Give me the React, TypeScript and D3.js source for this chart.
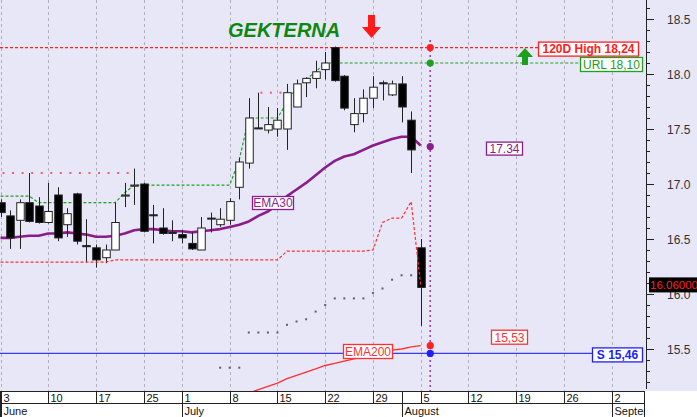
import React from "react";
import * as d3 from "d3";

const W = 697;
const H = 417;
const PLOT_R = 646;
const PLOT_B = 391;

// OHLC, trading days from 3 June (index 0) to 5 August (index 44)
const opens = [16.83,16.71,16.67,16.83,16.80,16.65,16.90,16.63,16.91,16.44,16.42,16.33,16.40,16.89,16.98,17.00,16.72,16.60,16.56,16.54,16.46,16.40,16.69,16.63,16.67,16.97,17.19,17.51,17.49,17.50,17.50,17.70,17.92,17.96,18.04,18.24,17.98,17.54,17.64,17.78,17.92,17.81,17.91,17.58,16.42];
const highs = [16.86,16.76,16.86,17.10,16.88,17.01,16.97,16.78,16.92,16.68,16.45,16.45,16.83,17.01,17.14,17.01,16.81,16.78,16.67,16.58,16.56,16.70,16.74,16.78,16.87,17.24,17.78,17.83,17.70,17.69,17.91,17.95,17.97,18.12,18.20,18.25,17.99,17.78,17.86,17.98,17.94,17.94,17.98,17.66,16.50];
const lows = [16.70,16.41,16.41,16.65,16.64,16.64,16.48,16.52,16.45,16.29,16.24,16.28,16.40,16.79,16.81,16.56,16.46,16.54,16.48,16.46,16.40,16.40,16.56,16.61,16.63,16.86,17.14,17.50,17.46,17.43,17.31,17.70,17.79,17.87,17.95,17.93,17.67,17.47,17.56,17.69,17.76,17.80,17.56,17.10,15.71];
const closes = [16.74,16.51,16.83,16.66,16.65,16.75,16.51,16.73,16.48,16.43,16.31,16.40,16.65,16.90,16.99,16.57,16.72,16.55,16.56,16.51,16.41,16.60,16.69,16.68,16.84,17.20,17.60,17.51,17.54,17.58,17.83,17.91,17.96,18.02,18.10,17.94,17.69,17.64,17.78,17.88,17.92,17.91,17.70,17.31,16.06];

const ema30 = [16.51,16.51,16.52,16.53,16.53,16.55,16.55,16.56,16.55,16.54,16.52,16.52,16.53,16.55,16.58,16.59,16.59,16.58,16.57,16.57,16.56,16.57,16.58,16.59,16.61,16.63,16.66,16.71,16.75,16.81,16.89,16.95,17.01,17.08,17.15,17.21,17.25,17.27,17.31,17.35,17.38,17.41,17.43,17.43,17.35];

const urlStep = [16.89,16.89,16.89,16.89,16.83,16.83,16.83,16.83,16.83,16.83,16.83,16.83,16.83,16.92,16.99,16.99,16.99,16.99,16.99,16.99,16.99,16.99,16.99,16.99,16.99,17.22,17.60,17.60,17.60,17.60,17.74,17.88,17.95,18.02,18.10,18.10,18.10,18.10,18.10,18.10,18.10,18.10,18.10,18.10,18.10,18.10];

const lowerStop = [16.29,16.29,16.29,16.29,16.29,16.29,16.29,16.29,16.29,16.29,16.29,16.29,16.31,16.31,16.31,16.31,16.31,16.31,16.31,16.31,16.31,16.31,16.31,16.31,16.31,16.31,16.31,16.31,16.31,16.31,16.39,16.39,16.39,16.39,16.39,16.39,16.39,16.39,16.39,16.40,16.65,16.69,16.69,16.84,16.08];

const greyDotsStart = 23;
const greyDots = [15.33,15.33,15.33,15.65,15.65,15.65,15.65,15.72,15.75,15.77,15.84,15.90,15.96,15.96,15.96,15.96,16.01,16.05,16.13,16.17,16.17];

const ema200Start = 26;
const ema200 = [15.10,15.13,15.16,15.19,15.23,15.26,15.29,15.32,15.35,15.37,15.39,15.41,15.43,15.45,15.47,15.49,15.50,15.52,15.53];

const redDotsA = { start: 0, values: [17.10,17.10,17.10,17.10,17.10,17.10,17.10,17.10,17.10,17.10,17.10,17.10,17.10,17.10] };
const redDotsB = { start: 27, values: [17.83,17.83,17.83] };

const high120 = 18.24;
const urlLevel = 18.10;
const support = 15.46;
const ema30Last = 17.34;
const ema200Last = 15.53;
const lastPrice = 16.06;
const markerIndex = 45;

const tickLabels = ["3","10","17","25","1","8","15","22","29","5","12","19","26","2"];
const tickIdx = [0,5,10,15,19,24,29,34,39,44,49,54,59,64];
const monthLabels = ["June","July","August","September"];
const monthIdx = [0,19,42,64];

const yTicks = d3.range(152, 187).map((v) => v / 10);

const FONT = "'Liberation Sans', Arial, sans-serif";

function Label({ x, y, w, h, text, color, bold = false, fill = "#fff", size = 12 }) {
  return (
    <g>
      <rect x={x + 0.5} y={y + 0.5} width={w} height={h} fill={fill} stroke={color} strokeWidth={1.3} />
      <text
        x={x + w / 2 + 0.5}
        y={y + h / 2 + size * 0.36 + 0.5}
        textAnchor="middle"
        fontFamily={FONT}
        fontSize={size}
        fontWeight={bold ? "bold" : "normal"}
        fill={color}
      >
        {text}
      </text>
    </g>
  );
}

export default function App() {
  const x = d3.scaleLinear().domain([0, 64]).range([0.5, 611.7]);
  const y = d3.scaleLinear().domain([15.5, 18.5]).range([349, 19]);
  const bw = 7.5;

  const line = d3
    .line<number>()
    .x((_, i) => x(i))
    .y((d) => y(d));
  const lineFrom = (start: number) =>
    d3
      .line<number>()
      .x((_, i) => x(i + start))
      .y((d) => y(d));

  const mx = x(markerIndex);
  const gridXs = tickIdx.map((i) => Math.round(x(i)) + 0.5);
  const topSeps = Array.from(new Set([...tickIdx, ...monthIdx])).map((i) => Math.round(x(i)) + 0.5);

  return (
    <svg
      width={W}
      height={H}
      style={{ position: "absolute", left: 0, top: 0, background: "#fff" }}
    >
      <defs>
        <clipPath id="plot">
          <rect x={0} y={0} width={PLOT_R} height={PLOT_B} />
        </clipPath>
        <clipPath id="strip">
          <rect x={0} y={PLOT_B} width={645} height={H - PLOT_B} />
        </clipPath>
      </defs>
      <rect x={0} y={0} width={W} height={PLOT_B} fill="#e7e7f8" />

      <g clipPath="url(#plot)">
        {gridXs.map((gx, k) => (
          <line key={k} x1={gx} x2={gx} y1={0} y2={PLOT_B} stroke="#b0b0c0" strokeDasharray="3,3" strokeWidth={1} />
        ))}

        {/* upper red sparse dots */}
        {[redDotsA, redDotsB].map((s, si) =>
          s.values.map((v, i) => (
            <rect key={si + "-" + i} x={x(s.start + i) + 2} y={y(v) - 1} width={2} height={2} fill="#f06060" />
          ))
        )}

        {/* grey sparse dots */}
        {greyDots.map((v, i) => (
          <rect key={i} x={x(greyDotsStart + i) - 1} y={y(v) - 1} width={2} height={2} fill="#6a5a66" />
        ))}

        {/* high 120 line */}
        <line x1={0} x2={538} y1={y(high120)} y2={y(high120)} stroke="#ff2020" strokeDasharray="3,2" strokeWidth={1.2} />
        {/* URL line extension */}
        <line x1={mx} x2={580} y1={y(urlLevel)} y2={y(urlLevel)} stroke="#20a020" strokeDasharray="3,2" strokeWidth={1.2} />
        {/* support */}
        <line x1={0} x2={592} y1={y(support)} y2={y(support)} stroke="#3a3aff" strokeWidth={1.2} />

        {/* green step line */}
        <path d={line(urlStep) || ""} fill="none" stroke="#20a020" strokeDasharray="3,2" strokeWidth={1.2} />

        {/* EMA200 */}
        <path d={lineFrom(ema200Start)(ema200) || ""} fill="none" stroke="#ff3030" strokeWidth={1.3} />

        {/* EMA30 */}
        <path d={line(ema30) || ""} fill="none" stroke="#8b1c8b" strokeWidth={2.6} strokeLinejoin="round" />

        {/* candles */}
        {opens.map((o, i) => {
          const c = closes[i];
          const cx = Math.round(x(i)) + 0.5;
          const top = y(Math.max(o, c));
          const bot = y(Math.min(o, c));
          const up = c > o;
          return (
            <g key={i}>
              <line x1={cx} x2={cx} y1={y(highs[i])} y2={y(lows[i])} stroke="#222" strokeWidth={1} />
              <rect
                x={cx - bw / 2}
                y={top}
                width={bw}
                height={Math.max(1, bot - top)}
                fill={up ? "#fff" : "#000"}
                stroke="#222"
                strokeWidth={1}
              />
            </g>
          );
        })}

        {/* lower red stop line (on top of last candle) */}
        <path d={line(lowerStop) || ""} fill="none" stroke="#ff3030" strokeDasharray="3,2" strokeWidth={1.2} />

        {/* marker vertical */}
        <line x1={mx} x2={mx} y1={40} y2={PLOT_B} stroke="#a040a8" strokeDasharray="2,3" strokeWidth={1.6} />
        <circle cx={mx} cy={y(high120)} r={3.6} fill="#ff2020" />
        <circle cx={mx} cy={y(urlLevel)} r={3.6} fill="#20a020" />
        <circle cx={mx} cy={y(ema30Last)} r={3.6} fill="#8b1c8b" />
        <circle cx={mx} cy={y(ema200Last)} r={3.6} fill="#ff2020" />
        <circle cx={mx} cy={y(support)} r={3.6} fill="#2020ff" />

        {/* labels */}
        <Label x={252} y={196} w={41} h={13} text="EMA30" color="#8b1c8b" />
        <Label x={343} y={344} w={49} h={14} text="EMA200" color="#ff3030" />
        <Label x={486} y={y(ema30Last) - 5} w={36} h={13} text="17.34" color="#8b1c8b" />
        <Label x={491} y={y(ema200Last) - 16} w={36} h={14} text="15,53" color="#ff3030" />
        <Label x={538} y={y(high120) - 6} w={100} h={14} text="120D High 18,24" color="#ff2020" bold />
        <Label x={580} y={y(urlLevel) - 6} w={62} h={14} text="URL 18,10" color="#20a020" />
        <Label x={592} y={y(support) - 6} w={50} h={14} text="S 15,46" color="#2020ff" bold />

        {/* title */}
        <text x={228} y={37} fontFamily={FONT} fontSize={20} fontWeight="bold" fontStyle="italic" fill="#0f870f">
          GEKTERNA
        </text>
        {/* red down arrow */}
        <path d="M368,15 L375,15 L375,27 L381,27 L371.5,38 L362,27 L368,27 Z" fill="#ff1a1a" />
        {/* green up arrow */}
        <path d="M522,65 L528,65 L528,57 L533,57 L525,48 L517,57 L522,57 Z" fill="#1aa01a" />
      </g>

      {/* right axis */}
      <line x1={PLOT_R + 0.5} x2={PLOT_R + 0.5} y1={0} y2={389} stroke="#222" strokeWidth={1} />
      {yTicks.map((v) => {
        const yy = Math.round(y(v)) + 0.5;
        if (yy < 0 || yy > 389) return null;
        const major = Math.abs(v * 2 - Math.round(v * 2)) < 1e-6;
        return (
          <g key={v}>
            <line x1={PLOT_R} x2={PLOT_R + (major ? 8 : 4)} y1={yy} y2={yy} stroke="#222" strokeWidth={1} />
            {major && (
              <text x={667} y={yy + 4} fontFamily={FONT} fontSize={12} fill="#333">
                {d3.format(".1f")(v)}
              </text>
            )}
          </g>
        );
      })}
      {/* last price box */}
      <rect x={649} y={y(lastPrice) - 10} width={48} height={15} fill="#000" />
      <text x={650} y={y(lastPrice) + 1.5} fontFamily={FONT} fontSize={11.5} fill="#ff2020">
        {d3.format(".5f")(lastPrice)}
      </text>

      {/* date strip */}
      <g clipPath="url(#strip)">
        <rect x={0.5} y={PLOT_B + 0.5} width={644} height={H - PLOT_B} fill="#fff" stroke="#222" strokeWidth={1} />
        <line x1={0} x2={645} y1={403.5} y2={403.5} stroke="#222" strokeWidth={1} />
        {topSeps.map((sx, k) => (
          <line key={k} x1={sx} x2={sx} y1={PLOT_B} y2={403.5} stroke="#222" strokeWidth={1} />
        ))}
        {monthIdx.map((i, k) => {
          const sx = Math.round(x(i)) + 0.5;
          return <line key={k} x1={sx} x2={sx} y1={403.5} y2={H} stroke="#222" strokeWidth={1} />;
        })}
        {tickLabels.map((t, k) => (
          <text key={k} x={Math.round(x(tickIdx[k])) + 2.5} y={401.5} fontFamily={FONT} fontSize={11} fill="#111">
            {t}
          </text>
        ))}
        {monthLabels.map((t, k) => (
          <text key={k} x={Math.round(x(monthIdx[k])) + 2.5} y={414.5} fontFamily={FONT} fontSize={11} fill="#111">
            {t}
          </text>
        ))}
      </g>
    </svg>
  );
}
